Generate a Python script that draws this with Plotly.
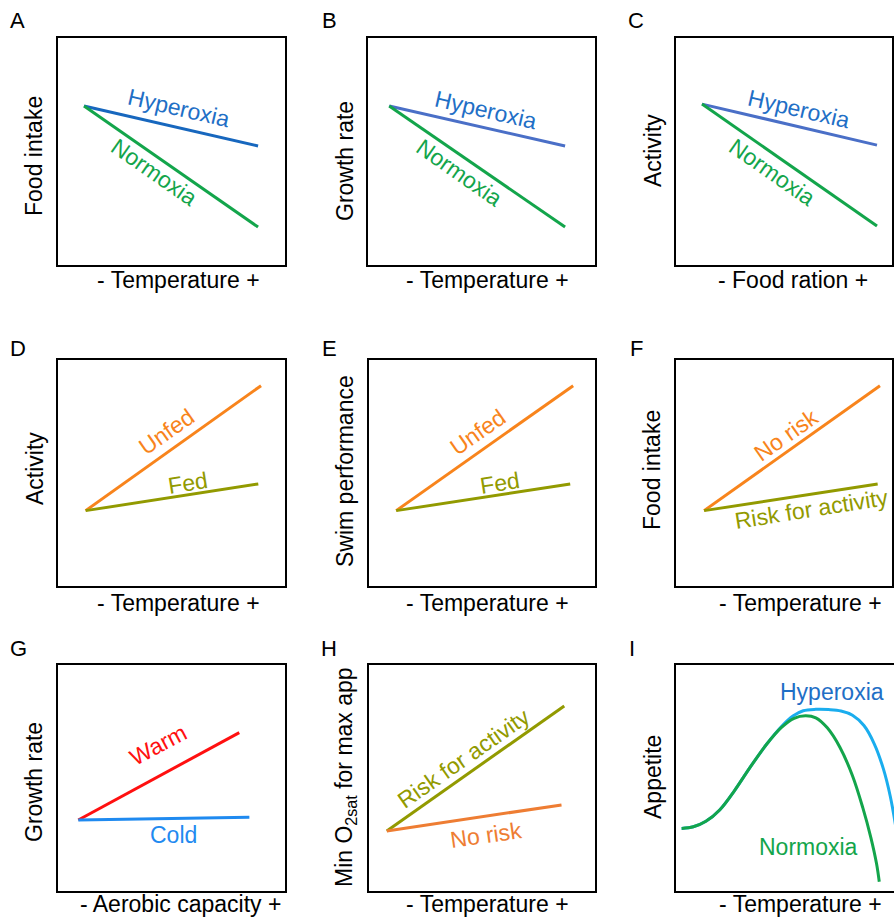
import plotly.graph_objects as go

W, H = 894, 917
FONT = "Liberation Sans, Arial, sans-serif"

# ---------------- data (0-100 conceptual units within each panel) -------------
# Panel A
a_x = [11.8, 87.8]
a_hyper = [69.9, 52.4]
a_normo = [69.9, 17.0]
# Panel B
b_x = [9.7, 86.5]
b_hyper = [69.9, 52.4]
b_normo = [69.9, 17.0]
# Panel C
c_x = [11.8, 88.2]
c_hyper = [70.7, 52.8]
c_normo = [70.7, 17.5]
# Panel D
d_unfed_x = [12.5, 89.1]
d_unfed = [33.5, 88.3]
d_fed_x = [12.5, 87.9]
d_fed = [33.5, 45.2]
# Panel E
e_unfed_x = [12.3, 89.6]
e_unfed = [33.5, 88.3]
e_fed_x = [12.3, 88.3]
e_fed = [33.5, 45.2]
# Panel F
f_norisk_x = [12.7, 89.5]
f_norisk = [33.5, 88.3]
f_risk_x = [12.7, 88.5]
f_risk = [33.5, 45.2]
# Panel G
g_warm_x = [9.3, 79.6]
g_warm = [31.6, 69.9]
g_cold_x = [9.3, 84.0]
g_cold = [31.6, 32.8]
# Panel H
h_risk_x = [8.2, 85.7]
h_risk = [26.8, 81.6]
h_norisk_x = [8.2, 84.5]
h_norisk = [26.8, 38.2]
# Panel I (curves)
i_normo_x = [2.9, 8.0, 13.5, 19.5, 26.0, 33.0, 40.0, 46.5, 52.0, 57.0, 61.5, 66.5, 72.0, 77.5, 82.0, 85.5, 88.0, 89.2]
i_normo = [27.9, 28.6, 31.0, 36.0, 44.5, 55.0, 64.8, 72.2, 76.2, 77.3, 76.4, 72.0, 63.5, 51.0, 37.0, 24.0, 12.5, 4.5]
i_hyper_x = [2.9, 8.0, 13.5, 19.5, 26.0, 33.0, 40.0, 46.5, 51.5, 56.0, 61.5, 67.0, 72.5, 77.5, 82.5, 87.0, 91.0, 94.0, 96.5]
i_hyper = [27.9, 28.6, 31.0, 36.0, 44.5, 55.0, 64.8, 72.6, 77.2, 79.5, 80.1, 80.0, 79.4, 77.5, 73.0, 65.0, 54.0, 42.0, 28.0]

# ---------------- layout helpers ------------------------------------------------
# panel boxes in pixels: (left, top, right, bottom)
boxes = {
    1: (57, 37, 286, 266), 2: (367, 37, 596, 266), 3: (675, 37, 893, 266),
    4: (57, 359, 286, 587), 5: (368, 359, 596, 587), 6: (675, 359, 893, 587),
    7: (57, 664, 286, 892), 8: (368, 664, 596, 892), 9: (675, 664, 904, 892),
}
UNIT_W = 229.0


def px(x):
    return x / W


def py(y):
    return 1 - y / H


fig = go.Figure()
layout = dict(width=W, height=H, margin=dict(l=0, r=0, t=0, b=0),
              paper_bgcolor="white", plot_bgcolor="white", showlegend=False,
              font=dict(family=FONT, color="black"))
shapes = []
for k, (l, t, r, b) in boxes.items():
    rr = min(r, W)
    sx = "xaxis" if k == 1 else f"xaxis{k}"
    sy = "yaxis" if k == 1 else f"yaxis{k}"
    layout[sx] = dict(domain=[px(l), px(rr)], range=[0, (rr - l) / UNIT_W * 100],
                      visible=False, anchor="y" if k == 1 else f"y{k}", fixedrange=True)
    layout[sy] = dict(domain=[py(b), py(t)], range=[0, 100],
                      visible=False, anchor="x" if k == 1 else f"x{k}", fixedrange=True)
    shapes.append(dict(type="rect", xref="paper", yref="paper", x0=px(l), x1=px(r),
                       y0=py(b), y1=py(t), line=dict(color="black", width=2),
                       fillcolor="rgba(0,0,0,0)", layer="above"))
layout["shapes"] = shapes

LW = 3


def add(k, x, y, color, spline=False):
    ax = "" if k == 1 else str(k)
    fig.add_trace(go.Scatter(x=x, y=y, mode="lines", xaxis="x" + ax, yaxis="y" + ax,
                             line=dict(color=color, width=LW,
                                       shape="spline" if spline else "linear",
                                       smoothing=1.0),
                             hoverinfo="skip"))


BLUE_D = "#1767BE"
BLUE_O = "#4A6FC7"
BLUE_T = "#1F6FC6"
GREEN = "#13A54B"
ORANGE = "#F8841C"
OLIVE = "#929A00"
ORANGE2 = "#EE7D33"
RED = "#FF1010"
COLD = "#1F8AF0"
SKY = "#1AADEE"

add(1, a_x, a_hyper, BLUE_D); add(1, a_x, a_normo, GREEN)
add(2, b_x, b_hyper, BLUE_O); add(2, b_x, b_normo, GREEN)
add(3, c_x, c_hyper, BLUE_O); add(3, c_x, c_normo, GREEN)
add(4, d_unfed_x, d_unfed, ORANGE); add(4, d_fed_x, d_fed, OLIVE)
add(5, e_unfed_x, e_unfed, ORANGE); add(5, e_fed_x, e_fed, OLIVE)
add(6, f_norisk_x, f_norisk, ORANGE); add(6, f_risk_x, f_risk, OLIVE)
add(7, g_warm_x, g_warm, RED); add(7, g_cold_x, g_cold, COLD)
add(8, h_risk_x, h_risk, OLIVE); add(8, h_norisk_x, h_norisk, ORANGE2)
add(9, i_hyper_x, i_hyper, SKY, spline=True); add(9, i_normo_x, i_normo, GREEN, spline=True)

ann = []
FS = 23


def lab(k, text, x, y, color, angle=0):
    ax = "" if k == 1 else str(k)
    ann.append(dict(text=text, x=x, y=y, xref="x" + ax, yref="y" + ax, showarrow=False,
                    textangle=angle, xanchor="center", yanchor="middle",
                    font=dict(family=FONT, size=FS, color=color)))


def ptext(text, x, y, angle=0, size=FS):
    ann.append(dict(text=text, x=px(x), y=py(y), xref="paper", yref="paper", showarrow=False,
                    textangle=angle, xanchor="center", yanchor="middle",
                    font=dict(family=FONT, size=size, color="black")))


lab(1, "Hyperoxia", 53.3, 69.0, BLUE_T, 13); lab(1, "Normoxia", 42.4, 41.0, GREEN, 35)
lab(2, "Hyperoxia", 52.0, 68.1, BLUE_T, 13); lab(2, "Normoxia", 40.6, 40.6, GREEN, 35)
lab(3, "Hyperoxia", 54.1, 68.6, BLUE_T, 13); lab(3, "Normoxia", 42.4, 41.0, GREEN, 35)
lab(4, "Unfed", 47.6, 68.0, ORANGE, -35); lab(4, "Fed", 57.2, 45.8, OLIVE, -9)
lab(5, "Unfed", 48.0, 68.0, ORANGE, -35); lab(5, "Fed", 57.6, 45.8, OLIVE, -9)
lab(6, "No risk", 48.5, 66.7, ORANGE, -35); lab(6, "Risk for activity", 59.7, 34.2, OLIVE, -9)
lab(7, "Warm", 44.1, 64.5, RED, -28); lab(7, "Cold", 50.7, 25.0, COLD, 0)
lab(8, "Risk for activity", 41.9, 58.8, OLIVE, -35); lab(8, "No risk", 51.5, 25.0, ORANGE2, -8)
lab(9, "Hyperoxia", 68.6, 87.7, BLUE_T, 0); lab(9, "Normoxia", 58.1, 19.7, GREEN, 0)

# panel letters
for t, x, y in [("A", 17, 20), ("B", 329, 20), ("C", 636, 20),
                ("D", 18, 348), ("E", 329, 348), ("F", 636, 348),
                ("G", 18, 648), ("H", 329, 648), ("I", 632, 648)]:
    ptext(t, x, y, size=22)

# axis titles
for t, x, y in [("Food intake", 34, 156), ("Growth rate", 345, 161), ("Activity", 653, 151),
                ("Activity", 35, 469), ("Swim performance", 345, 471), ("Food intake", 652, 470),
                ("Growth rate", 34, 782), ("Min O<sub>2sat</sub> for max app", 345, 777),
                ("Appetite", 653, 777)]:
    ptext(t, x, y, angle=-90)
for t, x, y in [("- Temperature +", 178, 280), ("- Temperature +", 487, 280), ("- Food ration +", 793, 280),
                ("- Temperature +", 178, 603), ("- Temperature +", 487, 603), ("- Temperature +", 800, 603),
                ("- Aerobic capacity +", 180, 904), ("- Temperature +", 487, 904), ("- Temperature +", 800, 904)]:
    ptext(t, x, y)

layout["annotations"] = ann
fig.update_layout(**layout)
fig.write_html("out.html")
